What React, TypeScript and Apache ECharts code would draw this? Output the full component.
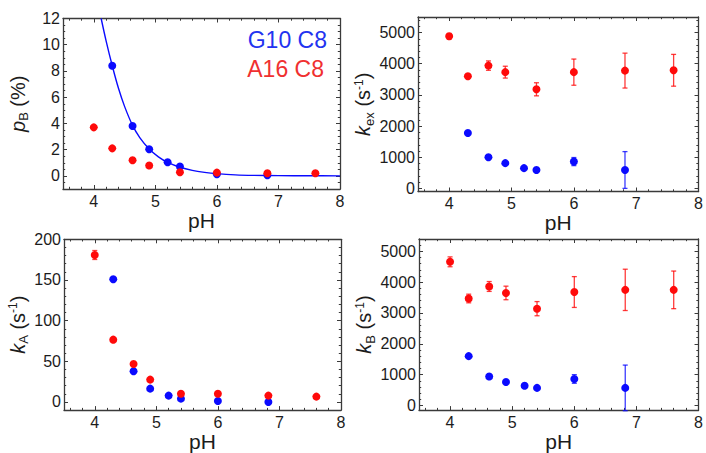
import React, { useEffect, useRef } from 'react';
import * as echarts from 'echarts';

// ---- data ----
const pHBlue = [4.3, 4.63, 4.9, 5.2, 5.4, 6.0, 6.82];
const pHRed = [4.0, 4.3, 4.63, 4.9, 5.4, 6.0, 6.82, 7.6];

const pBBlue = [8.4, 3.8, 2.03, 1.04, 0.71, 0.13, 0.05];
const pBRed = [3.7, 2.1, 1.19, 0.79, 0.28, 0.25, 0.2, 0.2];
// fitted curve
const fitPH = [4.12, 4.2, 4.3, 4.4, 4.5, 4.63, 4.75, 4.9, 5.05, 5.2, 5.4, 5.6, 5.8, 6.0, 6.3, 6.6, 7.0, 7.5, 8.0];
const fitPB = [12, 10.3, 8.4, 6.7, 5.3, 3.85, 2.9, 2.05, 1.45, 1.03, 0.66, 0.42, 0.27, 0.17, 0.08, 0.04, 0.02, 0.01, 0.0];

const kexBlue = [1780, 1000, 810, 650, 590, 860, 590];
const kexBlueErr = [30, 30, 30, 30, 30, 130, 590];
const kexRed = [4880, 3600, 3940, 3730, 3180, 3730, 3780, 3790];
const kexRedErr = [90, 60, 150, 190, 210, 420, 560, 510];

const kABlue = [150.8, 37.7, 16.4, 7.8, 4.1, 1.2, 0];
const kABlueErr = [1, 1, 1, 1, 1, 1, 1];
const kARed = [180.7, 76.6, 46.7, 27.5, 10.2, 10.2, 7.8, 6.6];
const kARedErr = [5.5, 1, 1, 1, 1, 1, 1, 1];

const kBBlue = [1600, 940, 760, 640, 570, 860, 570];
const kBBlueErr = [30, 30, 30, 30, 30, 140, 740];
const kBRed = [4660, 3470, 3860, 3650, 3140, 3680, 3750, 3750];
const kBRedErr = [160, 140, 160, 220, 230, 500, 670, 610];

const xTicks = [4, 5, 6, 7, 8];
const pBTicks = [0, 2, 4, 6, 8, 10, 12];
const kTicks = [0, 1000, 2000, 3000, 4000, 5000];
const kATicks = [0, 50, 100, 150, 200];

const BLUE = '#0a0aff';
const RED = '#ff0a0a';
const FRAME = '#3a3a3a';
const TEXT = '#1c1c1c';
const FONT = '"Liberation Sans", Arial, Helvetica, sans-serif';

function minorTicks(lo: number, hi: number, step: number, majors: number[]) {
  const out: number[] = [];
  const n = Math.round((hi - lo) / step);
  for (let i = 0; i <= n; i++) {
    const v = +(lo + i * step).toFixed(6);
    if (!majors.some((m) => Math.abs(m - v) < 1e-9)) out.push(v);
  }
  return out;
}

const xMinor = minorTicks(3.6, 7.8, 0.2, xTicks);

const richName = {
  n: { fontSize: 20, fontFamily: FONT, color: TEXT },
  i: { fontSize: 20, fontFamily: FONT, color: TEXT, fontStyle: 'italic' },
  sub: { fontSize: 13, fontFamily: FONT, color: TEXT, padding: [12, 0, 0, 0] },
  sup: { fontSize: 12, fontFamily: FONT, color: TEXT, padding: [0, 0, 9, 0] },
};

type Panel = {
  grid: any;
  yMin: number;
  yMax: number;
  yTicks: number[];
  yMinor: number[];
  name: string;
  nameGap: number;
};

const panels: Panel[] = [
  {
    grid: { left: 63, top: 18.5, width: 277, height: 170.5 },
    yMin: -1, yMax: 12, yTicks: pBTicks,
    yMinor: minorTicks(-0.5, 11.5, 0.5, pBTicks),
    name: '{i|p}{sub|B}{n| (%)}', nameGap: 33,
  },
  {
    grid: { left: 418, top: 17, width: 283, height: 174.5 },
    yMin: -100, yMax: 5500, yTicks: kTicks,
    yMinor: minorTicks(200, 5400, 200, kTicks),
    name: '{i|k}{sub|ex}{n| (s}{sup|-1}{n|)}', nameGap: 41,
  },
  {
    grid: { left: 64, top: 239.3, width: 277, height: 171 },
    yMin: -10, yMax: 200, yTicks: kATicks,
    yMinor: minorTicks(10, 190, 10, kATicks),
    name: '{i|k}{sub|A}{n| (s}{sup|-1}{n|)}', nameGap: 34,
  },
  {
    grid: { left: 419, top: 239, width: 282, height: 174.4 },
    yMin: -150, yMax: 5400, yTicks: kTicks,
    yMinor: minorTicks(200, 5400, 200, kTicks),
    name: '{i|k}{sub|B}{n| (s}{sup|-1}{n|)}', nameGap: 41,
  },
];

function errSeries(xa: number, ya: number, xs: number[], ys: number[], es: number[], color: string) {
  return {
    type: 'custom',
    xAxisIndex: xa,
    yAxisIndex: ya,
    z: 2,
    clip: false,
    data: xs.map((x, i) => [x, ys[i], es[i]]),
    encode: { x: 0, y: 1 },
    renderItem: (params: any, api: any) => {
      const x = api.value(0);
      const y = api.value(1);
      const e = api.value(2);
      const t = api.coord([x, y + e]);
      const b = api.coord([x, y - e]);
      const w = 2.5;
      const style = { stroke: color, lineWidth: 1.3, opacity: 0.8 };
      return {
        type: 'group',
        children: [
          { type: 'line', shape: { x1: t[0], y1: t[1], x2: b[0], y2: b[1] }, style },
          { type: 'line', shape: { x1: t[0] - w, y1: t[1], x2: t[0] + w, y2: t[1] }, style },
          { type: 'line', shape: { x1: b[0] - w, y1: b[1], x2: b[0] + w, y2: b[1] }, style },
        ],
      };
    },
  };
}

function buildOption() {
  const grid: any[] = [];
  const xAxis: any[] = [];
  const yAxis: any[] = [];
  const series: any[] = [];

  panels.forEach((p, gi) => {
    grid.push({ ...p.grid, containLabel: false, show: false });
    const xCommon = { type: 'value', gridIndex: gi, min: 3.5, max: 8, splitLine: { show: false } };
    const yCommon = { type: 'value', gridIndex: gi, min: p.yMin, max: p.yMax, splitLine: { show: false } };
    const lineOn = { show: true, onZero: false, lineStyle: { color: FRAME, width: 1.3 } };
    const lineOff = { show: false, onZero: false };

    xAxis.push(
      {
        ...xCommon, position: 'bottom', axisLine: lineOn,
        axisTick: { show: true, inside: true, length: 4, customValues: xTicks, lineStyle: { color: FRAME, width: 1 } },
        axisLabel: { show: true, customValues: xTicks, fontSize: 16, fontFamily: FONT, color: TEXT, margin: 4, formatter: (v: number) => String(v) },
        name: 'pH', nameLocation: 'middle', nameGap: 14,
        nameTextStyle: { fontSize: 21, fontFamily: FONT, color: TEXT, verticalAlign: 'top' },
      },
      {
        ...xCommon, position: 'bottom', axisLine: lineOff,
        axisTick: { show: true, inside: true, length: 2.2, customValues: xMinor, lineStyle: { color: FRAME, width: 1 } },
        axisLabel: { show: false },
      },
      {
        ...xCommon, position: 'top', axisLine: lineOn,
        axisTick: { show: true, inside: true, length: 4, customValues: xTicks, lineStyle: { color: FRAME, width: 1 } },
        axisLabel: { show: false },
      },
      {
        ...xCommon, position: 'top', axisLine: lineOff,
        axisTick: { show: true, inside: true, length: 2.2, customValues: xMinor, lineStyle: { color: FRAME, width: 1 } },
        axisLabel: { show: false },
      },
    );

    yAxis.push(
      {
        ...yCommon, position: 'left', axisLine: lineOn,
        axisTick: { show: true, inside: true, length: 4, customValues: p.yTicks, lineStyle: { color: FRAME, width: 1 } },
        axisLabel: { show: true, customValues: p.yTicks, fontSize: 16, fontFamily: FONT, color: TEXT, margin: 3, formatter: (v: number) => String(v) },
        name: p.name, nameLocation: 'middle', nameGap: p.nameGap, nameRotate: 90,
        nameTextStyle: { rich: richName },
      },
      {
        ...yCommon, position: 'left', axisLine: lineOff,
        axisTick: { show: true, inside: true, length: 2.2, customValues: p.yMinor, lineStyle: { color: FRAME, width: 1 } },
        axisLabel: { show: false },
      },
      {
        ...yCommon, position: 'right', axisLine: lineOn,
        axisTick: { show: true, inside: true, length: 4, customValues: p.yTicks, lineStyle: { color: FRAME, width: 1 } },
        axisLabel: { show: false },
      },
      {
        ...yCommon, position: 'right', axisLine: lineOff,
        axisTick: { show: true, inside: true, length: 2.2, customValues: p.yMinor, lineStyle: { color: FRAME, width: 1 } },
        axisLabel: { show: false },
      },
    );
  });

  const sets = [
    { b: pBBlue, be: null as any, r: pBRed, re: null as any },
    { b: kexBlue, be: kexBlueErr, r: kexRed, re: kexRedErr },
    { b: kABlue, be: kABlueErr, r: kARed, re: kARedErr },
    { b: kBBlue, be: kBBlueErr, r: kBRed, re: kBRedErr },
  ];

  sets.forEach((s, gi) => {
    const ai = gi * 4;
    if (s.be) series.push(errSeries(ai, ai, pHBlue, s.b, s.be, BLUE));
    if (s.re) series.push(errSeries(ai, ai, pHRed, s.r, s.re, RED));
    series.push({
      type: 'scatter', xAxisIndex: ai, yAxisIndex: ai, z: 4, symbolSize: 8,
      itemStyle: { color: BLUE, opacity: 1 },
      data: pHBlue.map((x, i) => [x, s.b[i]]),
    });
    series.push({
      type: 'scatter', xAxisIndex: ai, yAxisIndex: ai, z: 4, symbolSize: 8,
      itemStyle: { color: RED, opacity: 1 },
      data: pHRed.map((x, i) => [x, s.r[i]]),
    });
  });

  series.push({
    type: 'line', xAxisIndex: 0, yAxisIndex: 0, z: 3, smooth: 0.35, showSymbol: false,
    symbol: 'none', clip: true,
    lineStyle: { color: BLUE, width: 1.4 },
    data: fitPH.map((x, i) => [x, fitPB[i]]),
  });

  return {
    animation: false,
    backgroundColor: '#ffffff',
    grid, xAxis, yAxis, series,
    graphic: [
      {
        type: 'text', x: 327, y: 28,
        style: { text: 'G10 C8', fill: '#2233f0', fontSize: 23, fontFamily: FONT, textAlign: 'right', textVerticalAlign: 'top' },
      },
      {
        type: 'text', x: 324, y: 57,
        style: { text: 'A16 C8', fill: '#f03030', fontSize: 23, fontFamily: FONT, textAlign: 'right', textVerticalAlign: 'top' },
      },
    ],
  };
}

export default function App() {
  const ref = useRef<HTMLDivElement>(null);
  useEffect(() => {
    if (!ref.current) return;
    const chart = echarts.init(ref.current, null, { renderer: 'svg' });
    chart.setOption(buildOption() as any);
    return () => chart.dispose();
  }, []);
  return (
    <div
      ref={ref}
      style={{ position: 'fixed', left: 0, top: 0, width: 706, height: 453, background: '#fff' }}
    />
  );
}
